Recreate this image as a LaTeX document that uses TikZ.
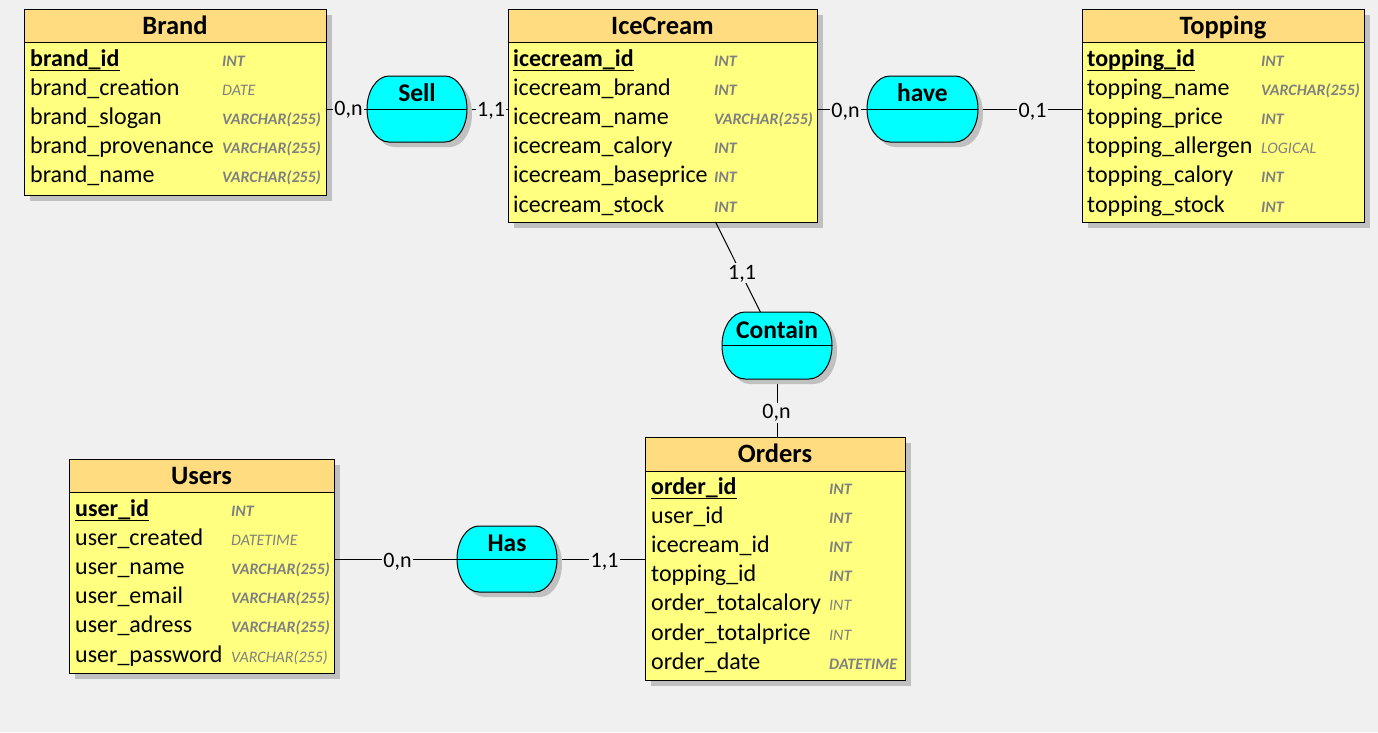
\documentclass[tikz,border=0pt]{standalone}
\usepackage{fontspec}
\setmainfont{Carlito}
\usetikzlibrary{calc}
\definecolor{bg}{HTML}{F0F0F0}
\definecolor{hdr}{HTML}{FFDC80}
\definecolor{entbody}{HTML}{FFFF80}
\definecolor{relfill}{HTML}{00FFFF}
\definecolor{typegray}{HTML}{808080}
\definecolor{shadowgray}{HTML}{C0C0C0}
\newcommand\typb[1]{\bfseries\itshape #1}
\newcommand\typl[1]{\itshape #1}
\tikzset{
  entbox/.style={draw=black, line width=1pt, fill=entbody, inner sep=0pt, outer sep=0pt, anchor=north west},
  enthead/.style={draw=black, line width=1pt, fill=hdr, inner sep=0pt, outer sep=0pt, anchor=north west},
  etitle/.style={font=\fontsize{26.5}{28}\selectfont\bfseries, anchor=base, inner sep=0pt},
  field/.style={font=\fontsize{24}{26}\selectfont, anchor=base west, inner sep=0pt},
  keyfield/.style={font=\fontsize{24}{26}\selectfont\bfseries, anchor=base west, inner sep=0pt},
  typ/.style={font=\fontsize{16}{18}\selectfont, text=typegray, anchor=base west, inner sep=0pt},
  uline/.style={line width=1.5pt},
  relnode/.style={inner sep=0pt, outer sep=0pt},
  reltitle/.style={font=\fontsize{25.5}{27}\selectfont\bfseries, anchor=base, inner sep=0pt},
  card/.style={font=\fontsize{22}{24}\selectfont, anchor=base, fill=bg, inner sep=1.5pt},
  link/.style={line width=1pt, draw=black}
}
% entity: name, x, y, w, h, header height
\newcommand\entity[6]{%
  \fill[shadowgray] (#2+5.5,#3+5.5) rectangle ++(#4,#5);
  \node[entbox, minimum width=#4pt, minimum height=#5pt] (#1) at (#2,#3) {};
  \node[enthead, minimum width=#4pt, minimum height=#6pt] (#1-h) at (#2,#3) {};
}
% key row: name, field x, type x, baseline, key, type
\newcommand\entkey[6]{%
  \node[keyfield] (#1-k) at (#2,#4) {#5};
  \node[typ] (#1-kt) at (#3,#4) {#6};
  \draw[uline] ($(#1-k.base west)+(0,4.5)$) -- ($(#1-k.base east)+(0,4.5)$);
}
% other rows: name, field x, type x, key baseline, list field/type
\newcommand\entrows[5]{%
  \foreach \f/\t [count=\i from 1] in {#5} {
    \node[field] (#1-f\i) at (#2,{#4+\i*29.2}) {\f};
    \node[typ] (#1-t\i) at (#3,{#4+\i*29.2}) {\t};
  }%
}
% relation shape: name, x radius, y radius
\newcommand\relshape[3]{%
  \fill[shadowgray] ($(#1.north west)+(#2+5,5)$) arc[start angle=90,end angle=270,x radius=#2pt,y radius=#3pt]
     -- ($(#1.south east)+(-#2+5,5)$) arc[start angle=-90,end angle=90,x radius=#2pt,y radius=#3pt] -- cycle;
  \filldraw[fill=relfill, draw=black, line width=1pt] ($(#1.north west)+(#2,0)$) arc[start angle=90,end angle=270,x radius=#2pt,y radius=#3pt]
     -- ($(#1.south east)+(-#2,0)$) arc[start angle=-90,end angle=90,x radius=#2pt,y radius=#3pt] -- cycle;
  \draw[line width=1pt] (#1.west) -- (#1.east);
}
\begin{document}
\begin{tikzpicture}[x=1pt,y=-1pt]
\fill[bg] (0,0) rectangle (1378,732);
\useasboundingbox (0,0) rectangle (1378,732);

% relation anchor nodes
\node[relnode, minimum width=100pt, minimum height=66pt] (sell) at (417,109) {};
\node[relnode, minimum width=111pt, minimum height=66pt] (have) at (922.5,109) {};
\node[relnode, minimum width=110pt, minimum height=67pt] (contain) at (777,345.5) {};
\node[relnode, minimum width=100pt, minimum height=66pt] (has) at (507,559) {};

% Brand
\entity{brand}{24}{9}{302}{186}{33}
\node[etitle] (brand-title) at (175,34) {Brand};
\entkey{brand}{30}{222}{66}{brand\_id}{\typb{INT}}
\entrows{brand}{30}{222}{66}{brand\_creation/\typl{DATE}, brand\_slogan/\typb{VARCHAR(255)}, brand\_provenance/\typb{VARCHAR(255)}, brand\_name/\typb{VARCHAR(255)}}

% IceCream
\entity{icecream}{508}{9}{309}{213}{33}
\node[etitle] (icecream-title) at (662.5,34) {IceCream};
\entkey{icecream}{513}{714}{66}{icecream\_id}{\typb{INT}}
\entrows{icecream}{513}{714}{66}{icecream\_brand/\typb{INT}, icecream\_name/\typb{VARCHAR(255)}, icecream\_calory/\typb{INT}, icecream\_baseprice/\typb{INT}, icecream\_stock/\typb{INT}}

% Topping
\entity{topping}{1082}{9}{282}{213}{33}
\node[etitle] (topping-title) at (1223,34) {Topping};
\entkey{topping}{1087}{1261}{66}{topping\_id}{\typb{INT}}
\entrows{topping}{1087}{1261}{66}{topping\_name/\typb{VARCHAR(255)}, topping\_price/\typb{INT}, topping\_allergen/\typl{LOGICAL}, topping\_calory/\typb{INT}, topping\_stock/\typb{INT}}

% Users
\entity{users}{69}{459}{265}{214}{33}
\node[etitle] (users-title) at (201.5,484) {Users};
\entkey{users}{75}{231}{516}{user\_id}{\typb{INT}}
\entrows{users}{75}{231}{516}{user\_created/\typl{DATETIME}, user\_name/\typb{VARCHAR(255)}, user\_email/\typb{VARCHAR(255)}, user\_adress/\typb{VARCHAR(255)}, user\_password/\typl{VARCHAR(255)}}

% Orders
\entity{orders}{645}{437}{260}{243}{34}
\node[etitle] (orders-title) at (775,462.5) {Orders};
\entkey{orders}{651}{829}{494}{order\_id}{\typb{INT}}
\entrows{orders}{651}{829}{494}{user\_id/\typb{INT}, icecream\_id/\typb{INT}, topping\_id/\typb{INT}, order\_totalcalory/\typl{INT}, order\_totalprice/\typl{INT}, order\_date/\typb{DATETIME}}

% links
\draw[link] (sell.center -| brand.east) -- (sell.center -| icecream.west);
\draw[link] (have.center -| icecream.east) -- (have.center -| topping.west);
\draw[link] (icecream) -- (contain);
\draw[link] (contain.south) -- (contain.south |- orders.north);
\draw[link] (has.center -| users.east) -- (has.center -| orders.west);

% relations
\relshape{sell}{22}{33}
\node[reltitle] (sell-title) at (417,101) {Sell};
\relshape{have}{23}{33}
\node[reltitle] (have-title) at (922.5,101) {have};
\relshape{contain}{23}{33.5}
\node[reltitle] (contain-title) at (777,338) {Contain};
\relshape{has}{22}{33}
\node[reltitle] (has-title) at (507,551) {Has};

% cardinalities
\node[card] (c-sell-brand) at (348.5,115.5) {0,n};
\node[card] (c-sell-ice) at (491,116) {1,1};
\node[card] (c-have-ice) at (845.5,117) {0,n};
\node[card] (c-have-top) at (1032.5,117) {0,1};
\node[card] (c-contain-ice) at (742,279) {1,1};
\node[card] (c-contain-ord) at (776.5,418.5) {0,n};
\node[card] (c-has-users) at (397.5,567.5) {0,n};
\node[card] (c-has-ord) at (604.5,567.5) {1,1};
\end{tikzpicture}
\end{document}
